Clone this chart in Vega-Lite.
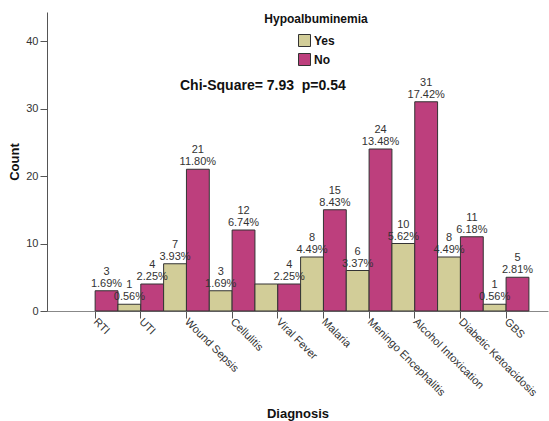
{
  "$schema": "https://vega.github.io/schema/vega-lite/v6.json",
  "autosize": {"type": "none"},
  "width": 501,
  "height": 299,
  "padding": {"left": 47, "top": 12, "right": 1, "bottom": 110},
  "background": "white",
  "title": {
    "text": "Chi-Square= 7.93\u00a0\u00a0p=0.54",
    "anchor": "start",
    "frame": "group",
    "orient": "top",
    "offset": 0,
    "dx": 133,
    "dy": 95,
    "baseline": "bottom",
    "font": "Liberation Sans",
    "fontSize": 14,
    "fontWeight": "bold",
    "color": "#111111"
  },
  "config": {
    "view": {"stroke": null},
    "font": "Liberation Sans"
  },
  "data": {
    "values": [
      {"diagnosis": "RTI", "group": "No", "count": 3, "label": ["3", "1.69%"]},
      {"diagnosis": "UTI", "group": "Yes", "count": 1, "label": ["1", "0.56%"]},
      {"diagnosis": "UTI", "group": "No", "count": 4, "label": ["4", "2.25%"]},
      {"diagnosis": "Wound Sepsis", "group": "Yes", "count": 7, "label": ["7", "3.93%"]},
      {"diagnosis": "Wound Sepsis", "group": "No", "count": 21, "label": ["21", "11.80%"]},
      {"diagnosis": "Cellulitis", "group": "Yes", "count": 3, "label": ["3", "1.69%"]},
      {"diagnosis": "Cellulitis", "group": "No", "count": 12, "label": ["12", "6.74%"]},
      {"diagnosis": "Viral Fever", "group": "Yes", "count": 4, "label": ""},
      {"diagnosis": "Viral Fever", "group": "No", "count": 4, "label": ["4", "2.25%"]},
      {"diagnosis": "Malaria", "group": "Yes", "count": 8, "label": ["8", "4.49%"]},
      {"diagnosis": "Malaria", "group": "No", "count": 15, "label": ["15", "8.43%"]},
      {"diagnosis": "Meningo Encephalitis", "group": "Yes", "count": 6, "label": ["6", "3.37%"]},
      {"diagnosis": "Meningo Encephalitis", "group": "No", "count": 24, "label": ["24", "13.48%"]},
      {"diagnosis": "Alcohol Intoxication", "group": "Yes", "count": 10, "label": ["10", "5.62%"]},
      {"diagnosis": "Alcohol Intoxication", "group": "No", "count": 31, "label": ["31", "17.42%"]},
      {"diagnosis": "Diabetic Ketoacidosis", "group": "Yes", "count": 8, "label": ["8", "4.49%"]},
      {"diagnosis": "Diabetic Ketoacidosis", "group": "No", "count": 11, "label": ["11", "6.18%"]},
      {"diagnosis": "GBS", "group": "Yes", "count": 1, "label": ["1", "0.56%"]},
      {"diagnosis": "GBS", "group": "No", "count": 5, "label": ["5", "2.81%"]}
    ]
  },
  "encoding": {
    "x": {
      "field": "diagnosis",
      "type": "nominal",
      "sort": ["RTI", "UTI", "Wound Sepsis", "Cellulitis", "Viral Fever", "Malaria", "Meningo Encephalitis", "Alcohol Intoxication", "Diabetic Ketoacidosis", "GBS"],
      "scale": {"paddingInner": 0, "paddingOuter": 0.486, "align": 0.57},
      "axis": {
        "title": "Diagnosis",
        "titleFont": "Liberation Sans",
        "titleFontSize": 13,
        "titleFontWeight": "bold",
        "titleColor": "#111111",
        "titlePadding": 10,
        "labelAngle": 45,
        "labelAlign": "left",
        "labelBaseline": "middle",
        "labelFontSize": 11,
        "labelColor": "#333333",
        "labelPadding": 2,
        "tickSize": 7,
        "tickColor": "#555555",
        "domainColor": "#888888",
        "labelOverlap": false
      }
    },
    "xOffset": {"field": "group", "type": "nominal", "sort": ["Yes", "No"], "scale": {"paddingInner": 0, "paddingOuter": 0}},
    "y": {
      "field": "count",
      "type": "quantitative",
      "scale": {"domain": [0, 44.3], "nice": false},
      "axis": {
        "title": "Count",
        "titleFont": "Liberation Sans",
        "titleFontSize": 13,
        "titleFontWeight": "bold",
        "titleColor": "#111111",
        "titlePadding": 4,
        "values": [0, 10, 20, 30, 40],
        "grid": false,
        "labelFontSize": 11,
        "labelColor": "#333333",
        "tickSize": 7,
        "tickColor": "#555555",
        "domainColor": "#555555"
      }
    }
  },
  "layer": [
    {
      "mark": {"type": "bar", "stroke": "#333333", "strokeWidth": 1},
      "encoding": {
        "color": {
          "field": "group",
          "type": "nominal",
          "sort": ["Yes", "No"],
          "scale": {"domain": ["Yes", "No"], "range": ["#d2cd98", "#bd3f7d"]},
          "legend": {
            "title": "Hypoalbuminemia",
            "orient": "none",
            "legendX": 217,
            "legendY": 2,
            "titleAnchor": "middle",
            "titleFont": "Liberation Sans",
            "titleFontSize": 12,
            "titleFontWeight": "bold",
            "titleColor": "#111111",
            "titlePadding": 8,
            "symbolType": "square",
            "symbolSize": 144,
            "symbolStrokeColor": "#333333",
            "symbolStrokeWidth": 1,
            "labelFont": "Liberation Sans",
            "labelFontSize": 12,
            "labelFontWeight": "bold",
            "labelColor": "#111111",
            "labelOffset": 3,
            "rowPadding": 2
          }
        }
      }
    },
    {
      "mark": {"type": "text", "baseline": "bottom", "dy": -14, "fontSize": 11, "color": "#333333", "lineHeight": 12},
      "encoding": {
        "text": {"field": "label"}
      }
    }
  ]
}
